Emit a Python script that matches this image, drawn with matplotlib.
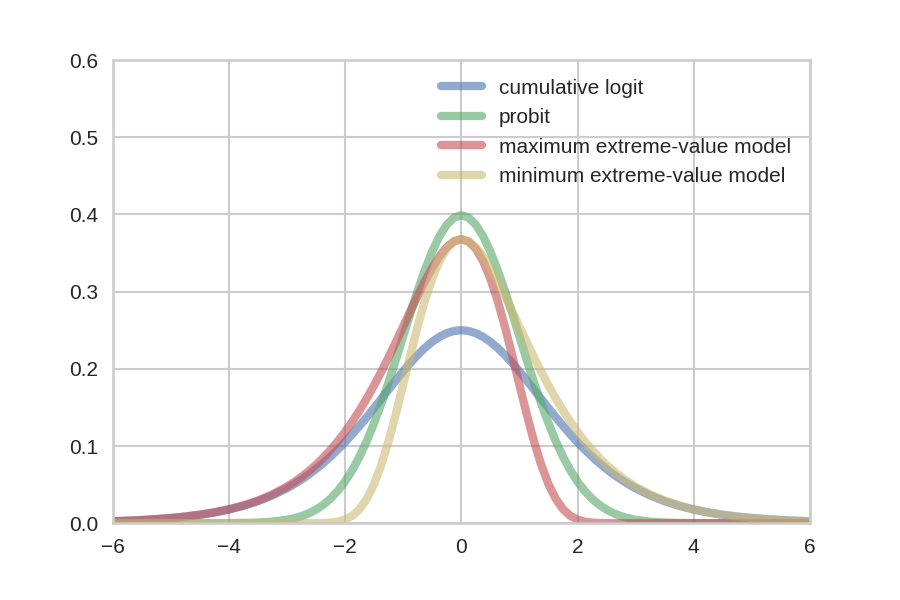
import numpy as np
import matplotlib
matplotlib.use("Agg")
import matplotlib.pyplot as plt

x = [-6.0, -5.75, -5.5, -5.25, -5.0, -4.75, -4.5, -4.25, -4.0, -3.75, -3.5, -3.25,
     -3.0, -2.875, -2.75, -2.625, -2.5, -2.375, -2.25, -2.125,
     -2.0, -1.875, -1.75, -1.625, -1.5, -1.375, -1.25, -1.125,
     -1.0, -0.875, -0.75, -0.625, -0.5, -0.375, -0.25, -0.125,
     0.0, 0.125, 0.25, 0.375, 0.5, 0.625, 0.75, 0.875,
     1.0, 1.125, 1.25, 1.375, 1.5, 1.625, 1.75, 1.875,
     2.0, 2.125, 2.25, 2.375, 2.5, 2.625, 2.75, 2.875,
     3.0, 3.25, 3.5, 3.75, 4.0, 4.25, 4.5, 4.75, 5.0, 5.25, 5.5, 5.75, 6.0]

logit = [0.00247, 0.00316, 0.00405, 0.00519, 0.00665, 0.00850, 0.01087, 0.01387,
         0.01766, 0.02245, 0.02845, 0.03593,
         0.04518, 0.05055, 0.05648, 0.06298, 0.07010, 0.07785, 0.08626, 0.09531,
         0.10499, 0.11528, 0.12613, 0.13745, 0.14915, 0.16108, 0.17311, 0.18502,
         0.19661, 0.20765, 0.21789, 0.22709, 0.23500, 0.24141, 0.24613, 0.24903,
         0.25000, 0.24903, 0.24613, 0.24141, 0.23500, 0.22709, 0.21789, 0.20765,
         0.19661, 0.18502, 0.17311, 0.16108, 0.14915, 0.13745, 0.12613, 0.11528,
         0.10499, 0.09531, 0.08626, 0.07785, 0.07010, 0.06298, 0.05648, 0.05055,
         0.04518, 0.03593, 0.02845, 0.02245, 0.01766, 0.01387, 0.01087, 0.00850,
         0.00665, 0.00519, 0.00405, 0.00316, 0.00247]

probit = [0, 0, 0, 0, 0, 0, 0.00002, 0.00005, 0.00013, 0.00035, 0.00087, 0.00203,
          0.00443, 0.00640, 0.00909, 0.01272, 0.01753, 0.02377, 0.03174, 0.04172,
          0.05399, 0.06879, 0.08628, 0.10654, 0.12952, 0.15502, 0.18265, 0.21188,
          0.24197, 0.27205, 0.30114, 0.32816, 0.35207, 0.37185, 0.38667, 0.39584,
          0.39894, 0.39584, 0.38667, 0.37185, 0.35207, 0.32816, 0.30114, 0.27205,
          0.24197, 0.21188, 0.18265, 0.15502, 0.12952, 0.10654, 0.08628, 0.06879,
          0.05399, 0.04172, 0.03174, 0.02377, 0.01753, 0.01272, 0.00909, 0.00640,
          0.00443, 0.00203, 0.00087, 0.00035, 0.00013, 0.00005, 0.00002, 0,
          0, 0, 0, 0, 0]

max_ev = [0.00247, 0.00317, 0.00407, 0.00522, 0.00669, 0.00858, 0.01099, 0.01406,
          0.01798, 0.02297, 0.02930, 0.03730,
          0.04737, 0.05332, 0.05997, 0.06738, 0.07562, 0.08475, 0.09485, 0.10599,
          0.11821, 0.13155, 0.14606, 0.16172, 0.17851, 0.19635, 0.21513, 0.23465,
          0.25465, 0.27476, 0.29453, 0.31342, 0.33070, 0.34567, 0.35744, 0.36516,
          0.36788, 0.36489, 0.35557, 0.33960, 0.31704, 0.28846, 0.25490, 0.21787,
          0.17937, 0.14153, 0.10642, 0.07576, 0.05071, 0.03164, 0.01823, 0.00960,
          0.00457, 0.00194, 0.00072, 0.00023, 0.00006, 0.00001, 0, 0,
          0, 0, 0, 0, 0, 0, 0, 0,
          0, 0, 0, 0, 0]

min_ev = [0, 0, 0, 0, 0, 0, 0, 0,
          0, 0, 0, 0,
          0, 0, 0, 0.00001, 0.00006, 0.00023, 0.00072, 0.00194,
          0.00457, 0.00960, 0.01823, 0.03164, 0.05071, 0.07576, 0.10642, 0.14153,
          0.17937, 0.21787, 0.25490, 0.28846, 0.31704, 0.33960, 0.35557, 0.36489,
          0.36788, 0.36516, 0.35744, 0.34567, 0.33070, 0.31342, 0.29453, 0.27476,
          0.25465, 0.23465, 0.21513, 0.19635, 0.17851, 0.16172, 0.14606, 0.13155,
          0.11821, 0.10599, 0.09485, 0.08475, 0.07562, 0.06738, 0.05997, 0.05332,
          0.04737, 0.03730, 0.02930, 0.02297, 0.01798, 0.01406, 0.01099, 0.00858,
          0.00669, 0.00522, 0.00407, 0.00317, 0.00247]

labels = ["cumulative logit", "probit",
          "maximum extreme-value model", "minimum extreme-value model"]
colors = ["#4C72B0", "#55A868", "#C44E52", "#CCB974"]

plt.rcParams['font.family'] = ['Liberation Sans', 'DejaVu Sans']
plt.rcParams['font.size'] = 10
plt.rcParams['axes.edgecolor'] = '.8'
plt.rcParams['axes.linewidth'] = 1.25
plt.rcParams['xtick.major.size'] = 0
plt.rcParams['ytick.major.size'] = 0
plt.rcParams['xtick.major.pad'] = 7
plt.rcParams['ytick.major.pad'] = 7
plt.rcParams['xtick.color'] = '.15'
plt.rcParams['ytick.color'] = '.15'
plt.rcParams['text.color'] = '.15'
plt.rcParams['lines.solid_capstyle'] = 'round'
plt.rcParams['lines.solid_joinstyle'] = 'round'

fig, ax = plt.subplots(figsize=(6, 4), dpi=150)
fig.subplots_adjust(left=0.125, right=0.9, top=0.9, bottom=0.128)

for ys, lab, c in zip([logit, probit, max_ev, min_ev], labels, colors):
    ax.plot(x, ys, color=c, lw=4, alpha=0.6, label=lab)

ax.grid(True, color='.8', lw=1)
ax.set_axisbelow(True)
ax.set_xlim(-6, 6)
ax.set_ylim(0, 0.6)
ax.set_xticks([-6, -4, -2, 0, 2, 4, 6])
ax.set_yticks([0.0, 0.1, 0.2, 0.3, 0.4, 0.5, 0.6])
ax.legend(loc='upper right', frameon=False)

plt.savefig('out.png', dpi=150)
